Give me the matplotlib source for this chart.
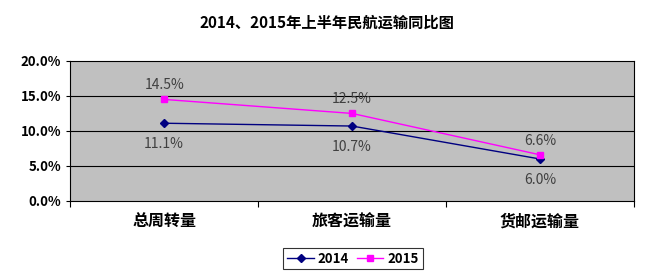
import matplotlib
matplotlib.use("Agg")
import matplotlib.pyplot as plt
from matplotlib.ticker import FuncFormatter

plt.rcParams['font.family'] = ['Noto Sans CJK SC', 'DejaVu Sans']

categories = ['总周转量', '旅客运输量', '货邮运输量']
years = ['2014', '2015']
vals_2014 = [11.1, 10.7, 6.0]
vals_2015 = [14.5, 12.5, 6.6]
yticks = [0, 5, 10, 15, 20]

fig = plt.figure(figsize=(6.5, 2.78), dpi=100)
ax = fig.add_axes([0.108, 0.277, 0.867, 0.504])
ax.set_facecolor('#C0C0C0')

x = list(range(len(categories)))
ax.plot(x, vals_2014, color='#000080', marker='D', markersize=4, lw=1, label=years[0], zorder=3)
ax.plot(x, vals_2015, color='#FF00FF', marker='s', markersize=5, lw=1, label=years[1], zorder=3)

# 2014 labels below, 2015 labels above
for xi, v in zip(x, vals_2014):
    ax.annotate(f'{v:.1f}%', (xi, v), xytext=(0, -10), textcoords='offset points',
                ha='center', va='top', fontsize=10, color='#404040')
for xi, v in zip(x, vals_2015):
    ax.annotate(f'{v:.1f}%', (xi, v), xytext=(0, 5), textcoords='offset points',
                ha='center', va='bottom', fontsize=10, color='#404040')

ax.set_xlim(-0.5, 2.5)
ax.set_ylim(0, 20)
ax.set_yticks(yticks)
ax.yaxis.set_major_formatter(FuncFormatter(lambda v, p: f'{v:.1f}%'))
for y in yticks[1:-1]:
    ax.axhline(y, color='black', lw=0.8, zorder=1)

ax.set_xticks([-0.5, 0.5, 1.5, 2.5])
ax.set_xticklabels([])
ax.set_xticks(x, minor=True)
ax.set_xticklabels(categories, minor=True, fontsize=11.5, fontweight='bold')
ax.tick_params(axis='x', which='minor', length=0, pad=9)
ax.tick_params(axis='x', which='major', length=4, direction='out')
ax.tick_params(axis='y', length=3, labelsize=9.5)
for lab in ax.get_yticklabels():
    lab.set_fontweight('bold')
for s in ax.spines.values():
    s.set_color('black')
    s.set_linewidth(0.8)

fig.text(0.503, 0.92, '2014、2015年上半年民航运输同比图', ha='center', va='center',
         fontsize=11, fontweight='bold')

leg = fig.legend(loc='center', bbox_to_anchor=(0.543, 0.07), ncol=2, frameon=True,
                 fancybox=False, edgecolor='black', handlelength=2,
                 columnspacing=0.6, handletextpad=0.3, borderpad=0.3,
                 prop={'weight': 'bold', 'size': 9.5})
leg.get_frame().set_linewidth(0.8)

fig.savefig('out.png', dpi=100)
